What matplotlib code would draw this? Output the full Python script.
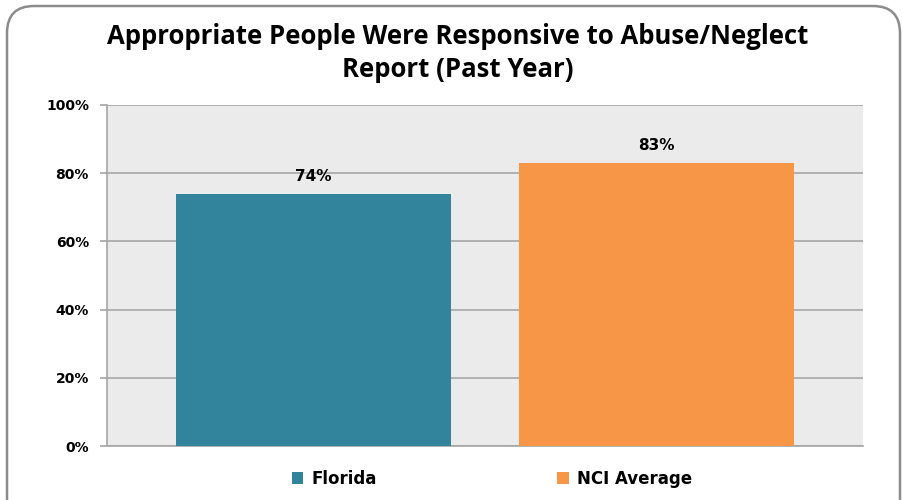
import matplotlib.pyplot as plt
from matplotlib.patches import FancyBboxPatch, Patch

# data
series = ['Florida', 'NCI Average']
values = [74, 83]
colors = ['#31849B', '#F79646']
yticks = [0, 20, 40, 60, 80, 100]

fig = plt.figure(figsize=(9.03, 5.0), dpi=100)

# rounded outer frame
frame = FancyBboxPatch((7 / 903, -0.05), 893 / 903, 1.0 - 6 / 500 + 0.05,
                       boxstyle='round,pad=0,rounding_size=0.03',
                       transform=fig.transFigure, facecolor='white',
                       edgecolor='#8C8C8C', linewidth=1.8, zorder=-5,
                       mutation_aspect=903 / 500)
fig.patches.append(frame)

ax = fig.add_axes([107 / 903, 1 - 446 / 500, (863 - 107) / 903, (446 - 105) / 500])
ax.set_zorder(2)
ax.set_facecolor('#EBEBEB')

x = range(len(series))
bars = ax.bar(x, values, width=0.8, color=colors, zorder=3)
for xi, v in zip(x, values):
    ax.annotate(f'{v}%', (xi, v), xytext=(0, 7), textcoords='offset points',
                ha='center', va='bottom', fontsize=11, fontweight='bold',
                family='DejaVu Sans', zorder=4)

ax.set_xlim(-0.6, 1.6)
ax.set_ylim(0, 100)
ax.set_yticks(yticks)
ax.set_yticklabels([f'{t}%' for t in yticks], fontsize=10, fontweight='bold',
                   family='DejaVu Sans')
ax.set_xticks([])
ax.yaxis.grid(True, color='#A6A6A6', linewidth=1.2, zorder=1)
ax.set_axisbelow(True)
ax.tick_params(axis='y', length=5, color='#A6A6A6', width=1.2, pad=8)
for s in ['top', 'right']:
    ax.spines[s].set_visible(False)
for s in ['left', 'bottom']:
    ax.spines[s].set_color('#A6A6A6')
    ax.spines[s].set_linewidth(1.2)

fig.text(458 / 903, 1 - 53 / 500,
         'Appropriate People Were Responsive to Abuse/Neglect\nReport (Past Year)',
         ha='center', va='center', fontsize=18.5, fontweight='bold',
         family='Open Sans', linespacing=1.3)

handles = [Patch(facecolor=c, label=s) for c, s in zip(colors, series)]
fig.legend(handles=handles, loc='center', bbox_to_anchor=(492 / 903, 1 - 479 / 500),
           ncol=2, frameon=False, handlelength=0.7, handleheight=0.7,
           handletextpad=0.5, columnspacing=10.8,
           prop={'family': 'DejaVu Sans', 'weight': 'bold', 'size': 12})

fig.savefig('out.png', dpi=100)
